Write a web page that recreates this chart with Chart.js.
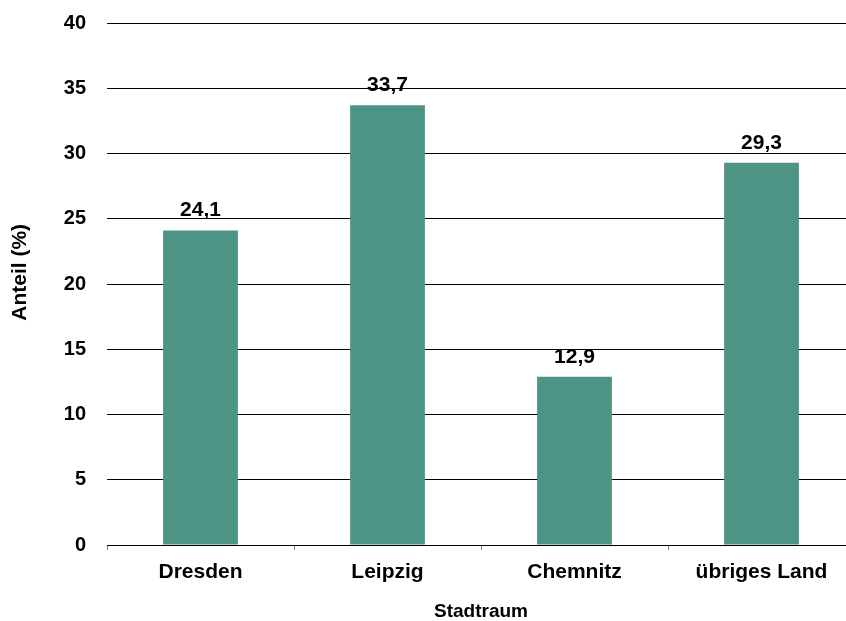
<!DOCTYPE html>
<html>
<head>
<meta charset="utf-8">
<script src="https://cdn.jsdelivr.net/npm/chart.js@4/dist/chart.umd.min.js"></script>
<style>
  html, body { margin: 0; padding: 0; background: #fff; overflow: hidden; }
</style>
</head>
<body>
<canvas id="anteil" width="855" height="621"></canvas>
<script>
const regions = ["Dresden", "Leipzig", "Chemnitz", "übriges Land"];
const shares = [24.1, 33.7, 12.9, 29.3];
const yTicks = [0, 5, 10, 15, 20, 25, 30, 35, 40];

const FONT = "'Liberation Sans', Arial, sans-serif";
Chart.defaults.font.family = FONT;
Chart.defaults.font.size = 19;
Chart.defaults.font.weight = "bold";
Chart.defaults.color = "#000";

// values written above each bar, German decimal comma
const valueLabels = {
  id: "valueLabels",
  afterDatasetsDraw(chart) {
    const ctx = chart.ctx;
    const meta = chart.getDatasetMeta(0);
    ctx.save();
    ctx.font = "bold 21px " + FONT;
    ctx.fillStyle = "#000";
    ctx.textAlign = "center";
    ctx.textBaseline = "alphabetic";
    meta.data.forEach((bar, i) => {
      const v = chart.data.datasets[0].data[i];
      ctx.fillText(v.toFixed(1).replace(".", ","), bar.x, bar.y - 14);
    });
    ctx.restore();
  },
};

let anteilctx = document.getElementById("anteil").getContext("2d");
new Chart(anteilctx, {
  type: "bar",
  data: {
    labels: regions,
    datasets: [
      {
        label: "Anteil",
        data: shares,
        backgroundColor: "#4e9485",
        barPercentage: 0.4,
        categoryPercentage: 1,
      },
    ],
  },
  options: {
    responsive: false,
    animation: false,
    devicePixelRatio: 1,
    layout: { padding: { top: 23, right: 0, bottom: 0, left: 0 } },
    plugins: {
      legend: { display: false },
      tooltip: { enabled: false },
    },
    scales: {
      x: {
        grid: {
          drawOnChartArea: false,
          drawTicks: true,
          tickLength: 5,
          tickColor: "#808080",
          offset: true,
        },
        border: { display: false },
        ticks: { padding: 10, font: { size: 21, weight: "bold" } },
        title: {
          display: true,
          text: "Stadtraum",
          font: { size: 19, weight: "bold", lineHeight: 1 },
          padding: { top: 0, bottom: 0 },
        },
        afterFit: (s) => { s.height = 76; },
      },
      y: {
        min: 0,
        max: 40,
        afterBuildTicks: (s) => { s.ticks = yTicks.map((v) => ({ value: v })); },
        grid: { color: "#000", lineWidth: 1, drawTicks: false },
        border: { display: false },
        ticks: { padding: 21, font: { size: 20, weight: "bold" } },
        title: {
          display: true,
          // leading spaces lift the rotated title a little above the axis centre
          text: "    Anteil (%)",
          font: { size: 21, weight: "bold", lineHeight: 1 },
          padding: { top: 10, bottom: 0 },
        },
        afterFit: (s) => {
          s.width = 107;
          s.paddingTop = 0;
          s.paddingBottom = 0;
        },
      },
    },
  },
  plugins: [valueLabels],
});
</script>
</body>
</html>
